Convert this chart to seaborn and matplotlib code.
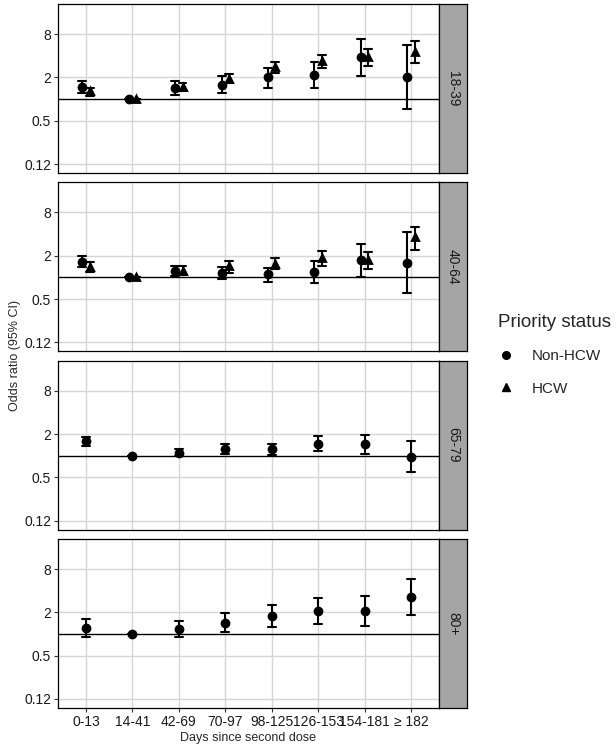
import numpy as np
import pandas as pd
import matplotlib
matplotlib.use("Agg")
import matplotlib.pyplot as plt
from matplotlib.lines import Line2D
from matplotlib.ticker import NullLocator
import seaborn as sns

# Style (theme_bw-like)
sns.set_style("whitegrid", {"axes.edgecolor": "black", "grid.color": "#d6d6d6",
                            "xtick.bottom": True, "ytick.left": True})
plt.rcParams['font.family'] = ['Liberation Sans', 'DejaVu Sans']

# =============================================================================
# Data: odds ratios (95% CI)
# =============================================================================
days = ["0-13", "14-41", "42-69", "70-97", "98-125", "126-153", "154-181", "\u2265 182"]
ages = ["18-39", "40-64", "65-79", "80+"]
status_order = ["Non-HCW", "HCW"]

# 18-39
nonhcw_18_est = [1.48, 1.0, 1.42, 1.58, 2.00, 2.18, 3.88, 2.00]
nonhcw_18_lo = [1.20, 1.0, 1.14, 1.20, 1.42, 1.42, 2.11, 0.73]
nonhcw_18_hi = [1.80, 1.0, 1.80, 2.09, 2.67, 3.23, 6.96, 5.62]
hcw_18_est = [1.28, 1.0, 1.48, 1.88, 2.81, 3.41, 3.79, 4.59]
hcw_18_lo = [1.11, 1.0, 1.30, 1.65, 2.32, 2.67, 2.87, 3.16]
hcw_18_hi = [1.42, 1.0, 1.70, 2.22, 3.27, 4.13, 4.95, 6.34]

# 40-64
nonhcw_40_est = [1.66, 1.0, 1.22, 1.16, 1.10, 1.20, 1.75, 1.59]
nonhcw_40_lo = [1.40, 1.0, 1.05, 0.95, 0.87, 0.84, 1.02, 0.60]
nonhcw_40_hi = [1.97, 1.0, 1.45, 1.40, 1.37, 1.68, 2.94, 4.22]
hcw_40_est = [1.40, 1.0, 1.24, 1.43, 1.56, 1.85, 1.73, 3.64]
hcw_40_lo = [1.20, 1.0, 1.09, 1.17, 1.29, 1.43, 1.29, 2.38]
hcw_40_hi = [1.66, 1.0, 1.45, 1.70, 1.85, 2.33, 2.28, 5.10]

# 65-79
nonhcw_65_est = [1.58, 1.0, 1.10, 1.24, 1.24, 1.45, 1.44, 0.97]
nonhcw_65_lo = [1.36, 1.0, 0.98, 1.05, 1.03, 1.15, 1.05, 0.59]
nonhcw_65_hi = [1.84, 1.0, 1.24, 1.45, 1.45, 1.86, 1.96, 1.60]

# 80+
nonhcw_80_est = [1.22, 1.0, 1.18, 1.43, 1.77, 2.07, 2.10, 3.30]
nonhcw_80_lo = [0.92, 1.0, 0.92, 1.07, 1.24, 1.36, 1.29, 1.85]
nonhcw_80_hi = [1.61, 1.0, 1.50, 1.95, 2.54, 3.13, 3.38, 5.86]

series = [
    ("18-39", "Non-HCW", nonhcw_18_est, nonhcw_18_lo, nonhcw_18_hi),
    ("18-39", "HCW", hcw_18_est, hcw_18_lo, hcw_18_hi),
    ("40-64", "Non-HCW", nonhcw_40_est, nonhcw_40_lo, nonhcw_40_hi),
    ("40-64", "HCW", hcw_40_est, hcw_40_lo, hcw_40_hi),
    ("65-79", "Non-HCW", nonhcw_65_est, nonhcw_65_lo, nonhcw_65_hi),
    ("80+", "Non-HCW", nonhcw_80_est, nonhcw_80_lo, nonhcw_80_hi),
]

# Long table: lo / est / hi rows per point -> median = estimate, full range = CI
rows = []
for age, status, est, lo, hi in series:
    for d, e, l, h in zip(days, est, lo, hi):
        for v in (l, e, h):
            rows.append({"age": age, "status": status, "days": d, "odds": v})
df = pd.DataFrame(rows)

# =============================================================================
# Figure
# =============================================================================
W, H = 616, 749
fig = plt.figure(figsize=(W / 100, H / 100), dpi=100)

left, width = 58, 381
panel_h = 169
strip_w = 28

for i, age in enumerate(ages):
    top = 4 + i * 178.3
    rect = [left / W, 1 - (top + panel_h) / H, width / W, panel_h / H]
    ax = fig.add_axes(rect)
    ax.set_yscale('log')
    d = df[df["age"] == age]
    common = dict(x="days", y="odds", order=days, estimator="median",
                  errorbar=("pi", 100), linestyle="none", capsize=0.17,
                  err_kws={"linewidth": 1.5}, markersize=5, ax=ax)
    if d["status"].nunique() > 1:
        sns.pointplot(data=d, hue="status", hue_order=status_order,
                      palette=["black", "black"], markers=["o", "^"],
                      dodge=0.16, legend=False, **common)
    else:
        sns.pointplot(data=d, color="black", markers="o", **common)

    ax.axhline(1, color="black", lw=1.0, zorder=1)
    ax.set_ylim(0.094, 21)
    ax.set_xlim(-0.6, 7.6)
    ax.yaxis.set_minor_locator(NullLocator())
    ax.set_yticks([0.125, 0.5, 2, 8])
    ax.set_yticklabels(["0.12", "0.5", "2", "8"])
    ax.set_axisbelow(True)
    ax.grid(True, color="#d6d6d6", lw=1.0)
    ax.set_xlabel("")
    ax.set_ylabel("")
    for s in ax.spines.values():
        s.set_color("black")
        s.set_linewidth(0.9)
    ax.tick_params(axis="both", length=3, width=0.8, color="#333333",
                   labelsize=10, labelcolor="#1a1a1a", pad=2)
    if i < len(ages) - 1:
        ax.tick_params(axis="x", bottom=False, labelbottom=False)

    # facet strip on the right
    sax = fig.add_axes([(left + width) / W, rect[1], strip_w / W, panel_h / H])
    sax.set_facecolor("#a5a5a5")
    sax.set_xticks([])
    sax.set_yticks([])
    sax.grid(False)
    for s in sax.spines.values():
        s.set_color("black")
        s.set_linewidth(0.9)
    sax.text(0.5, 0.5, age, rotation=270, ha="center", va="center",
             fontsize=10, color="#1a1a1a", transform=sax.transAxes)

fig.text(0.024, 0.526, "Odds ratio (95% CI)", rotation=90, ha="center",
         va="center", fontsize=9)
fig.text(248 / W, 1 - 738 / H, "Days since second dose", ha="center",
         va="center", fontsize=9)

handles = [Line2D([], [], color="black", marker="o", linestyle="none", markersize=5.5),
           Line2D([], [], color="black", marker="^", linestyle="none", markersize=5.5)]
leg = fig.legend(handles, status_order, title="Priority status", loc="center left",
                 bbox_to_anchor=(486 / W, 1 - 355 / H), frameon=False,
                 fontsize=11, title_fontsize=13.5, labelspacing=1.2,
                 handlelength=1.0, handletextpad=1.2, borderpad=0.3)
leg._legend_box.align = "left"

plt.savefig("out.png", dpi=100)
